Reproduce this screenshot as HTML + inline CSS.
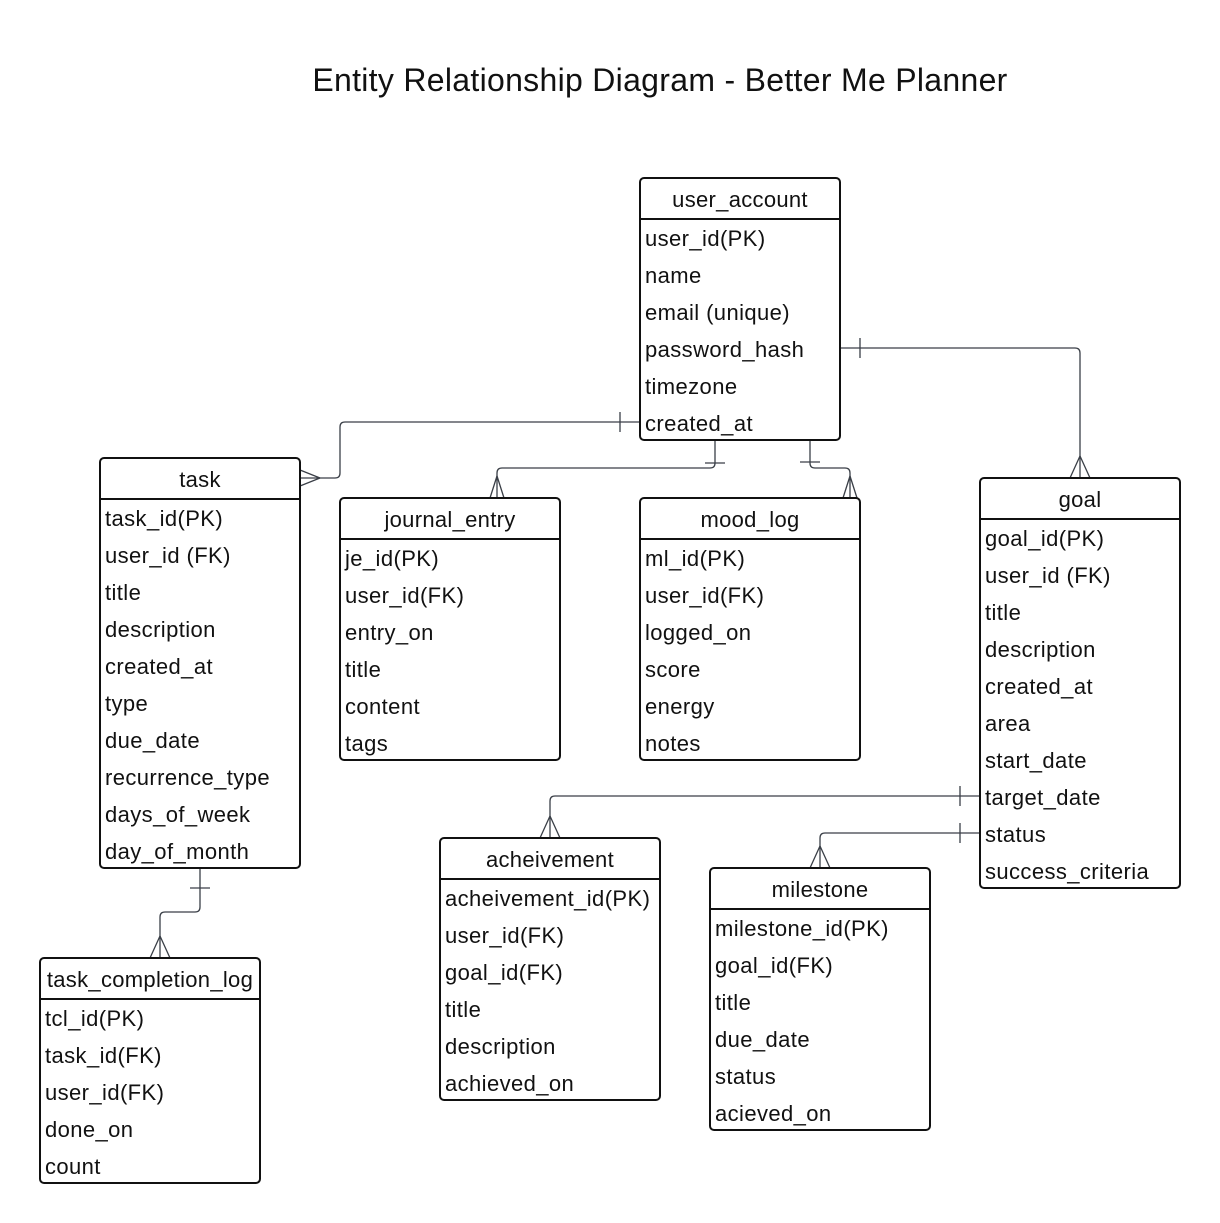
<!DOCTYPE html>
<html><head><meta charset="utf-8"><style>
body{margin:0;width:1220px;height:1223px;background:#fff;position:relative;font-family:"Liberation Sans",sans-serif;color:#111;overflow:hidden}
.t{position:absolute;left:0;width:1320px;top:62px;text-align:center;font-size:32px;letter-spacing:0.3px}
.b{position:absolute;border:2px solid #111;border-radius:5px;box-sizing:border-box;background:#fff}
.h{height:39px;line-height:41px;text-align:center;font-size:22px;letter-spacing:0.3px;border-bottom:2px solid #111}
.r{height:37px;line-height:38px;padding-left:4px;font-size:22px;letter-spacing:0.4px;white-space:nowrap}
svg{position:absolute;left:0;top:0}
</style></head><body>
<div class="t">Entity Relationship Diagram - Better Me Planner</div>
<svg width="1220" height="1223" fill="none" stroke="#3a3f47" stroke-width="1.3">
<path d="M640 422H345Q340 422 340 427V473Q340 478 335 478H300"/><path d="M620 412V432M320 478L300 470M320 478L300 486"/>
<path d="M715 440V463Q715 468 710 468H502Q497 468 497 473V498"/><path d="M705 463H725M497 476L490 498M497 476L504 498"/>
<path d="M810 440V463Q810 468 815 468H845Q850 468 850 473V498"/><path d="M800 462H820M850 476L843 498M850 476L857 498"/>
<path d="M840 348H1075Q1080 348 1080 353V478"/><path d="M860 338V358M1080 456L1070 478M1080 456L1090 478"/>
<path d="M980 796H555Q550 796 550 801V838"/><path d="M960 786V806M550 816L540 838M550 816L560 838"/>
<path d="M980 833H825Q820 833 820 838V868"/><path d="M960 823V843M820 846L810 868M820 846L830 868"/>
<path d="M200 868V907Q200 912 195 912H165Q160 912 160 917V958"/><path d="M190 888H210M160 936L150 958M160 936L170 958"/>
</svg>
<div class="b" style="left:639px;top:177px;width:202px;height:264px"><div class="h">user_account</div><div class="r">user_id(PK)</div><div class="r">name</div><div class="r">email (unique)</div><div class="r">password_hash</div><div class="r">timezone</div><div class="r">created_at</div></div>
<div class="b" style="left:99px;top:457px;width:202px;height:412px"><div class="h">task</div><div class="r">task_id(PK)</div><div class="r">user_id (FK)</div><div class="r">title</div><div class="r">description</div><div class="r">created_at</div><div class="r">type</div><div class="r">due_date</div><div class="r">recurrence_type</div><div class="r">days_of_week</div><div class="r">day_of_month</div></div>
<div class="b" style="left:339px;top:497px;width:222px;height:264px"><div class="h">journal_entry</div><div class="r">je_id(PK)</div><div class="r">user_id(FK)</div><div class="r">entry_on</div><div class="r">title</div><div class="r">content</div><div class="r">tags</div></div>
<div class="b" style="left:639px;top:497px;width:222px;height:264px"><div class="h">mood_log</div><div class="r">ml_id(PK)</div><div class="r">user_id(FK)</div><div class="r">logged_on</div><div class="r">score</div><div class="r">energy</div><div class="r">notes</div></div>
<div class="b" style="left:979px;top:477px;width:202px;height:412px"><div class="h">goal</div><div class="r">goal_id(PK)</div><div class="r">user_id (FK)</div><div class="r">title</div><div class="r">description</div><div class="r">created_at</div><div class="r">area</div><div class="r">start_date</div><div class="r">target_date</div><div class="r">status</div><div class="r">success_criteria</div></div>
<div class="b" style="left:439px;top:837px;width:222px;height:264px"><div class="h">acheivement</div><div class="r">acheivement_id(PK)</div><div class="r">user_id(FK)</div><div class="r">goal_id(FK)</div><div class="r">title</div><div class="r">description</div><div class="r">achieved_on</div></div>
<div class="b" style="left:709px;top:867px;width:222px;height:264px"><div class="h">milestone</div><div class="r">milestone_id(PK)</div><div class="r">goal_id(FK)</div><div class="r">title</div><div class="r">due_date</div><div class="r">status</div><div class="r">acieved_on</div></div>
<div class="b" style="left:39px;top:957px;width:222px;height:227px"><div class="h">task_completion_log</div><div class="r">tcl_id(PK)</div><div class="r">task_id(FK)</div><div class="r">user_id(FK)</div><div class="r">done_on</div><div class="r">count</div></div>
</body></html>
